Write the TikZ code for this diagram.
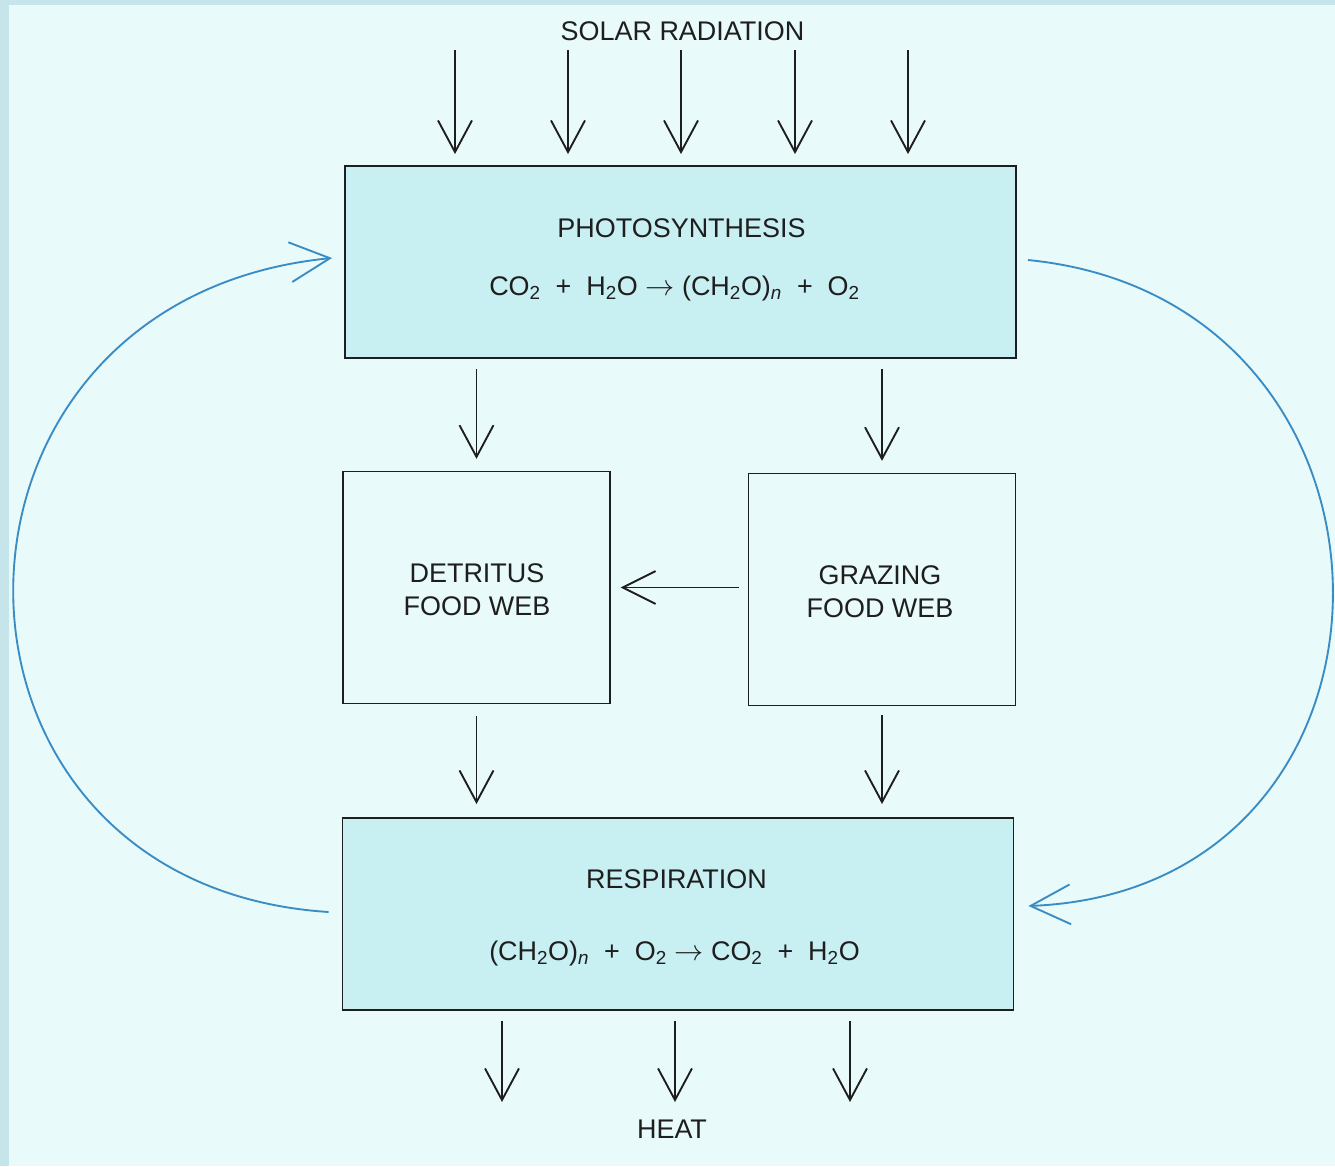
\documentclass[tikz,border=0pt]{standalone}
\usepackage{fontspec}
\setmainfont{Liberation Sans}
\usetikzlibrary{arrows.meta,calc}
\definecolor{frameblue}{HTML}{C6E5EA}
\definecolor{bgcyan}{HTML}{E8FAFA}
\definecolor{boxfill}{HTML}{C8EFF2}
\definecolor{loopblue}{HTML}{3A8CC4}
\definecolor{ink}{HTML}{1E1E1E}
\begin{document}
\begin{tikzpicture}[x=0.03cm, y=-0.03cm,
  flowarrow/.style={draw=ink, line width=1.6pt, -{Straight Barb[length=27pt,width=29pt]}},
  sidearrow/.style={draw=ink, line width=1.6pt, -{Straight Barb[length=28pt,width=28pt]}},
  cyclearrow/.style={draw=loopblue, line width=1.6pt, -{Straight Barb[length=34pt,width=34pt]}},
  bigbox/.style={draw=ink, line width=1.6pt, fill=boxfill, minimum width=20.13cm, minimum height=5.76cm, inner sep=0pt},
  webbox/.style={draw=ink, line width=1.4pt, minimum width=8cm, minimum height=6.95cm, inner sep=0pt},
  lbl/.style={text=ink, font=\fontsize{23}{28}\selectfont, inner sep=0pt, anchor=base, align=center}]
\useasboundingbox (0,0) rectangle (1335,1166);
\fill[frameblue] (0,0) rectangle (1335,1166);
\fill[bgcyan] (9,5) rectangle (1335,1166);

% boxes
\node[bigbox] (photo) at (680.5,262) {};
\node[webbox] (det) at (476.5,587.5) {};
\node[webbox] (graz) at (882,589.5) {};
\node[bigbox] (resp) at (678,914) {};

% texts
\node[lbl] (solar) at (682.5,40) {SOLAR RADIATION};
\node[lbl] (photoT) at (681.5,237) {PHOTOSYNTHESIS};
\node[lbl] (photoE) at (674.5,295) {CO\textsubscript{2}\ \ +\ \ H\textsubscript{2}O $\to$ (CH\textsubscript{2}O)\textsubscript{\itshape n}\ \ +\ \ O\textsubscript{2}};
\node[lbl] (detT) at (477,615) {DETRITUS\\FOOD WEB};
\node[lbl] (grazT) at (880,617) {GRAZING\\FOOD WEB};
\node[lbl] (respT) at (676.5,888) {RESPIRATION};
\node[lbl] (respE) at (674.5,960) {(CH\textsubscript{2}O)\textsubscript{\itshape n}\ \ +\ \ O\textsubscript{2} $\to$ CO\textsubscript{2}\ \ +\ \ H\textsubscript{2}O};
\node[lbl] (heat) at (672,1138) {HEAT};

% solar radiation arrows
\foreach \i/\x in {1/455,2/568,3/681,4/795,5/908}{
  \coordinate (s\i) at (\x,50);
  \draw[flowarrow, shorten >=0.33cm] (s\i) -- (s\i |- photo.north);
}

% photosynthesis to food webs
\draw[flowarrow, shorten <=0.3cm, shorten >=0.36cm] (det.north |- photo.south) -- (det.north);
\draw[flowarrow, shorten <=0.3cm, shorten >=0.36cm] (graz.north |- photo.south) -- (graz.north);

% grazing to detritus
\draw[sidearrow, shorten <=0.27cm, shorten >=0.3cm] (graz.west |- det.east) -- (det.east);

% food webs to respiration
\draw[flowarrow, shorten <=0.36cm, shorten >=0.39cm] (det.south) -- (det.south |- resp.north);
\draw[flowarrow, shorten <=0.27cm, shorten >=0.39cm] (graz.south) -- (graz.south |- resp.north);

% heat arrows
\foreach \i/\x in {1/502,2/675,3/850}{
  \coordinate (h\i) at (\x,1102);
  \draw[flowarrow, shorten <=0.3cm] (h\i |- resp.south) -- (h\i);
}

% cycle arcs
\draw[cyclearrow] ($(resp.west)+(-13,-2)$) .. controls (-92,885) and (-92,300) .. ($(photo.west)+(-12,-4)$);
\draw[cyclearrow] ($(photo.east)+(11,-2)$) .. controls (1434,300) and (1434,890) .. ($(resp.east)+(14,-8)$);
\end{tikzpicture}
\end{document}
